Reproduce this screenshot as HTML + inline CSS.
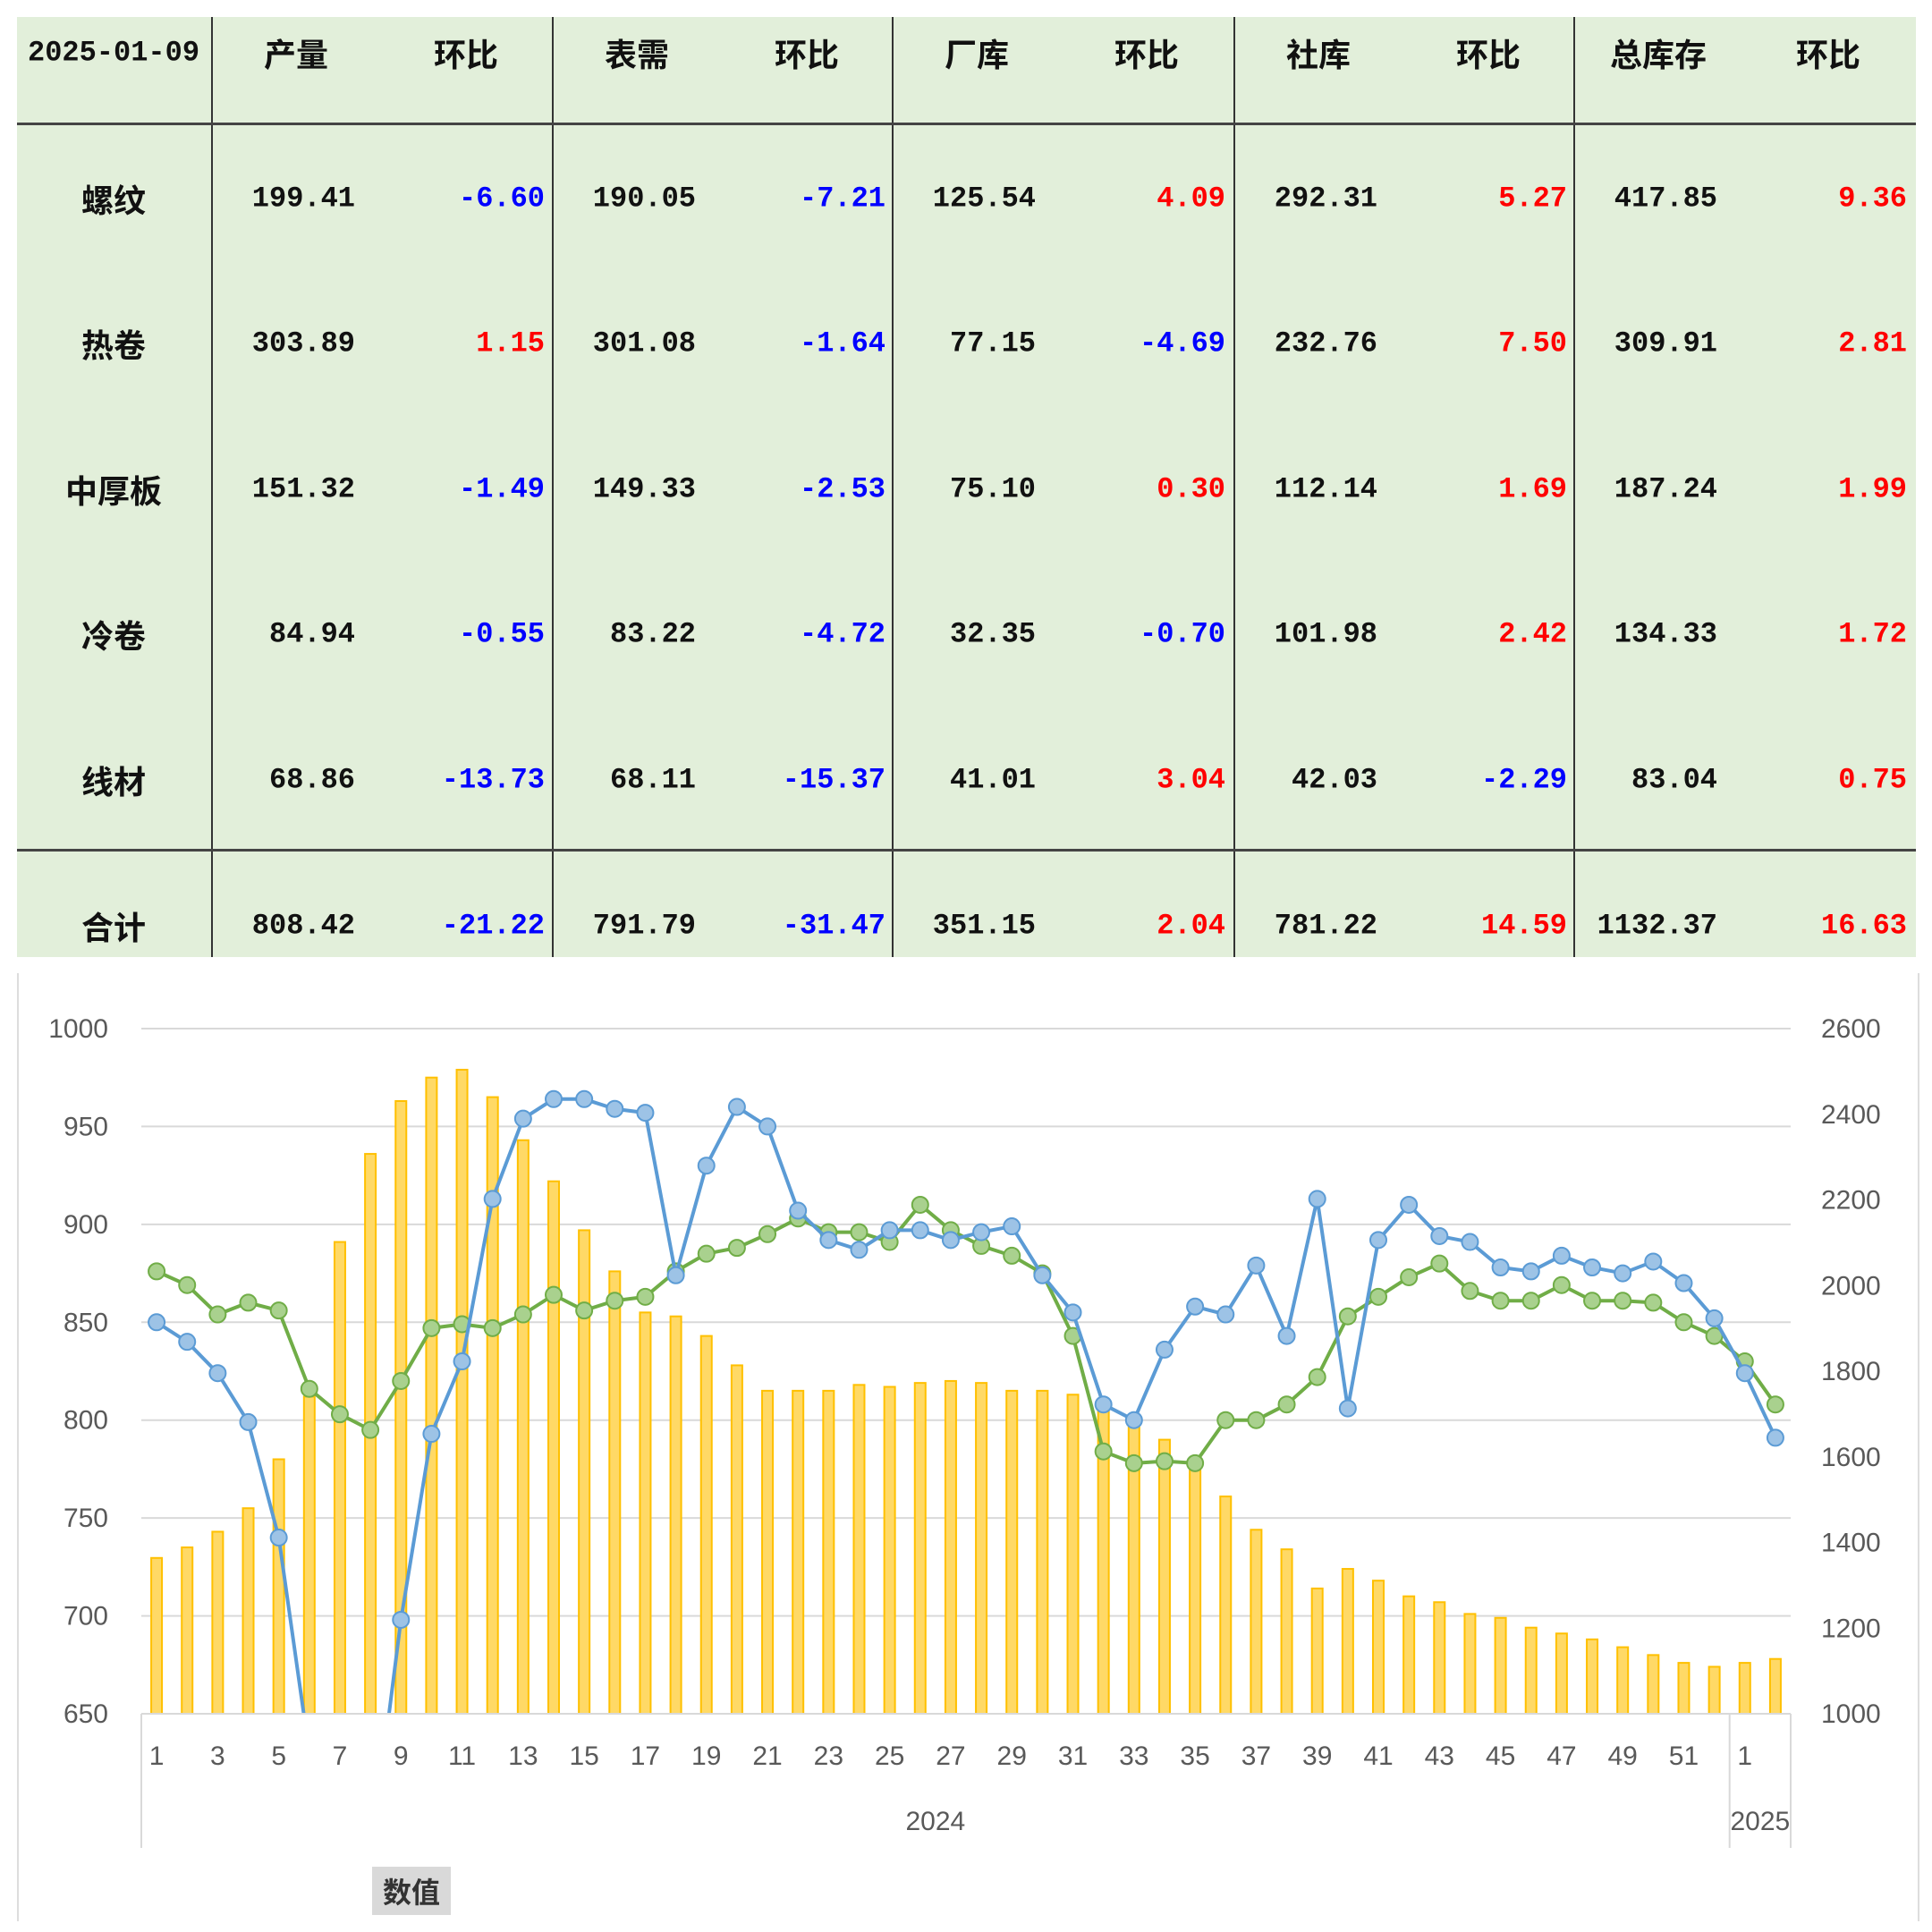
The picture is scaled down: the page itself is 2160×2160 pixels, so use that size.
<!DOCTYPE html>
<html><head><meta charset="utf-8"><style>
body{margin:0;width:2160px;height:2160px;background:#fff;position:relative;overflow:hidden;font-family:"Liberation Sans","Noto Sans CJK SC",sans-serif}
#tbl{position:absolute;left:19px;top:19px;width:2123px;height:1051px;background:#e2efda}
.c{position:absolute;transform:translate(-50%,-50%);white-space:nowrap;font-family:"Liberation Mono","Noto Sans CJK SC",monospace;font-weight:bold;font-size:32px;color:#111}
.r{position:absolute;transform:translate(-100%,-50%);white-space:nowrap;font-family:"Liberation Mono",monospace;font-weight:bold;font-size:32px}
.h{font-family:"Noto Sans CJK SC",sans-serif;font-size:36px}
.vl{position:absolute;top:0;width:2px;height:1051px;background:#333}
.hl{position:absolute;left:0;width:2123px;height:3px;background:#444}
#frame{position:absolute;left:19px;top:1088px;width:2123px;height:1060px;border-left:2px solid #ddd;border-right:2px solid #ddd}
#legend{position:absolute;left:416px;top:2087px;width:88px;height:54px;background:#d9d9d9;font-family:"Noto Sans CJK SC",sans-serif;font-size:32px;font-weight:bold;text-align:center;line-height:54px;color:#333}
</style></head><body>
<div id="tbl"></div>
<div id="frame"></div>
<svg id="chart" width="2160" height="2160" style="position:absolute;left:0;top:0"></svg>
<div id="legend">数值</div>
<script>
const rowLabels=["螺纹","热卷","中厚板","冷卷","线材","合计"];
const tableRows=[
["199.41","-6.60","190.05","-7.21","125.54","4.09","292.31","5.27","417.85","9.36"],
["303.89","1.15","301.08","-1.64","77.15","-4.69","232.76","7.50","309.91","2.81"],
["151.32","-1.49","149.33","-2.53","75.10","0.30","112.14","1.69","187.24","1.99"],
["84.94","-0.55","83.22","-4.72","32.35","-0.70","101.98","2.42","134.33","1.72"],
["68.86","-13.73","68.11","-15.37","41.01","3.04","42.03","-2.29","83.04","0.75"],
["808.42","-21.22","791.79","-31.47","351.15","2.04","781.22","14.59","1132.37","16.63"]];
const headers=["产量","表需","厂库","社库","总库存"];
const tbl=document.getElementById('tbl');
const gStart=[217,598,978,1360,1740];
const rowY=[203,365,528,690,853,1016];
function add(cls,txt,x,y,color,name){const d=document.createElement('div');d.className=cls;d.textContent=txt;d.style.left=x+'px';d.style.top=y+'px';if(color)d.style.color=color;


tbl.appendChild(d);}
add('c','2025-01-09',108,40,null,'date-header');
headers.forEach((h,i)=>{add('c h',h,gStart[i]+95,40,null,'header-'+i);add('c h','环比',gStart[i]+285,40,null,'header-change-'+i);});
gStart.forEach((x,i)=>{const v=document.createElement('div');v.className='vl';v.style.left=x+'px';


tbl.appendChild(v);});
[118,930].forEach(y=>{const l=document.createElement('div');l.className='hl';l.style.top=y+'px';


tbl.appendChild(l);});
rowLabels.forEach((lab,r)=>{add('c h',lab,108,rowY[r],null,'row-label');
tableRows[r].forEach((v,k)=>{const g=Math.floor(k/2);
if(k%2==0)add('r',v,gStart[g]+161,rowY[r],'#111','value-cell');
else add('r',v,gStart[g]+373,rowY[r],parseFloat(v)<0?'#0000ff':'#ff0000','change-cell');});});

const categories=[];for(let i=1;i<=52;i++)categories.push(String(i));categories.push("1","2");
const barValues=[729.6,735,743,755,780,812,891,936,963,975,979,965,943,922,897,876,855,853,843,828,815,815,815,818,817,819,820,819,815,815,813,806,798,790,775,761,744,734,714,724,718,710,707,701,699,694,691,688,684,680,676,674,676,678];
const blueValues=[850,840,824,799,740,630,585,575,698,793,830,913,954,964,964,959,957,874,930,960,950,907,892,887,897,897,892,896,899,874,855,808,800,836,858,854,879,843,913,806,892,910,894,891,878,876,884,878,875,881,870,852,824,791];
const greenValues=[876,869,854,860,856,816,803,795,820,847,849,847,854,864,856,861,863,876,885,888,895,903,896,896,891,910,897,889,884,875,843,784,778,779,778,800,800,808,822,853,863,873,880,866,861,861,869,861,861,860,850,843,830,808];
const leftTicks=[650,700,750,800,850,900,950,1000];
const rightTicks=[1000,1200,1400,1600,1800,2000,2200,2400,2600];

const L=158,R=2002,T=1150,B=1916,N=categories.length,bw=(R-L)/N;
const yL=v=>B-(v-650)/350*(B-T);
const yR=v=>B-(v-1000)/1600*(B-T);
const xC=i=>L+bw*(i+0.5);
const svg=document.getElementById('chart');const NS='http://www.w3.org/2000/svg';
function el(t,a,name){const e=document.createElementNS(NS,t);for(const k in a)e.setAttribute(k,a[k]);


svg.appendChild(e);return e;}
const defs=el('defs',{},'defs');const cp=document.createElementNS(NS,'clipPath');cp.setAttribute('id','clip');
const cr=document.createElementNS(NS,'rect');cr.setAttribute('x',L);cr.setAttribute('y',T-20);cr.setAttribute('width',R-L);cr.setAttribute('height',B-T+20);cp.appendChild(cr);defs.appendChild(cp);
leftTicks.forEach(v=>{el('line',{x1:L,x2:R,y1:yL(v),y2:yL(v),stroke:'#d9d9d9','stroke-width':2},'gridline');
const t=el('text',{x:121,y:yL(v)+10,'text-anchor':'end','font-size':30,fill:'#595959','font-family':'Liberation Sans'},'y-left-tick');t.textContent=v;});
rightTicks.forEach(v=>{const t=el('text',{x:2036,y:yR(v)+10,'font-size':30,fill:'#595959','font-family':'Liberation Sans'},'y-right-tick');t.textContent=v;});
barValues.forEach((v,i)=>{el('rect',{x:xC(i)-6,y:yL(v),width:12,height:B-yL(v),fill:'#ffd966',stroke:'#ffc000','stroke-width':2},'bar-'+(i+1));});
function series(vals,stroke,fill,name){const g=el('g',{'clip-path':'url(#clip)'},name);
const p=document.createElementNS(NS,'polyline');p.setAttribute('points',vals.map((v,i)=>xC(i)+','+yL(v)).join(' '));p.setAttribute('fill','none');p.setAttribute('stroke',stroke);p.setAttribute('stroke-width',4);


g.appendChild(p);
vals.forEach((v,i)=>{const c=document.createElementNS(NS,'circle');c.setAttribute('cx',xC(i));c.setAttribute('cy',yL(v));c.setAttribute('r',9);c.setAttribute('fill',fill);c.setAttribute('stroke',stroke);c.setAttribute('stroke-width',2);


g.appendChild(c);});}
series(greenValues,'#70ad47','#a9d18e','green-series');
series(blueValues,'#5b9bd5','#9dc3e6','blue-series');
el('line',{x1:L,x2:R,y1:B,y2:B,stroke:'#d9d9d9','stroke-width':2},'x-axis');
[L,L+bw*52,R].forEach(x=>el('line',{x1:x,x2:x,y1:B,y2:2066,stroke:'#d9d9d9','stroke-width':2},'category-divider'));
categories.forEach((c,i)=>{if(i%2==0){const t=el('text',{x:xC(i),y:1973,'text-anchor':'middle','font-size':30,fill:'#595959','font-family':'Liberation Sans'},'x-tick');t.textContent=c;}});
const y1=el('text',{x:(L+L+bw*52)/2,y:2046,'text-anchor':'middle','font-size':30,fill:'#595959','font-family':'Liberation Sans'},'year-label-2024');y1.textContent='2024';
const y2=el('text',{x:(L+bw*52+R)/2,y:2046,'text-anchor':'middle','font-size':30,fill:'#595959','font-family':'Liberation Sans'},'year-label-2025');y2.textContent='2025';
</script>
</body></html>
